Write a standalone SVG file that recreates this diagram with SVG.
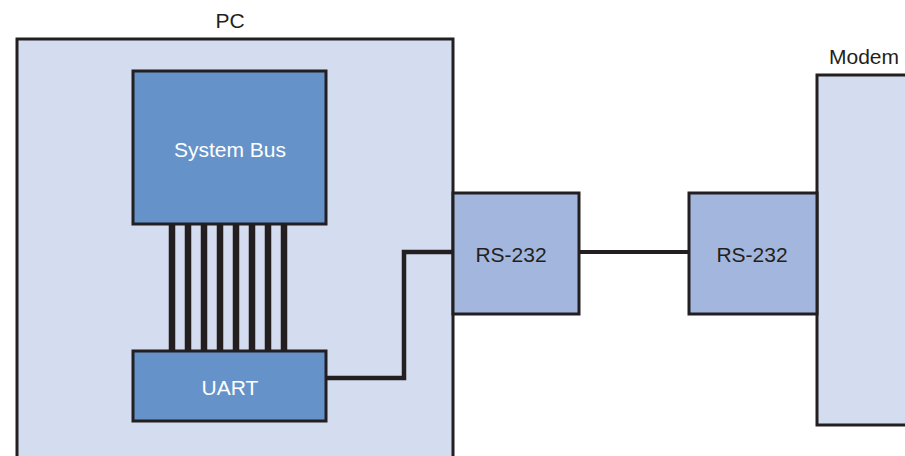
<svg xmlns="http://www.w3.org/2000/svg" width="905" height="456" viewBox="0 0 905 456">
<style>
.box{stroke:#231f20;stroke-width:3}
.outer{fill:#d4dcef}
.bus{fill:#6593c9}
.rs{fill:#a3b7de}
.lbl{font-family:"Liberation Sans",Arial,sans-serif;font-size:21px;text-anchor:middle;fill:#231f20}
.wl{fill:#ffffff}
.wire{fill:none;stroke:#231f20}
</style>
<rect width="905" height="456" fill="#ffffff"/>
<g id="pc">
<rect class="box outer" x="17" y="39" width="436" height="430"/>
<text class="lbl" x="230" y="28">PC</text>
</g>
<g id="modem">
<rect class="box outer" x="817" y="75" width="100" height="350"/>
<text class="lbl" x="864" y="64">Modem</text>
</g>
<g id="connectors">
<g class="wire" stroke-width="6.5">
<line x1="172" y1="224" x2="172" y2="351"/>
<line x1="188" y1="224" x2="188" y2="351"/>
<line x1="204" y1="224" x2="204" y2="351"/>
<line x1="220" y1="224" x2="220" y2="351"/>
<line x1="236" y1="224" x2="236" y2="351"/>
<line x1="252" y1="224" x2="252" y2="351"/>
<line x1="268" y1="224" x2="268" y2="351"/>
<line x1="284" y1="224" x2="284" y2="351"/>
</g>
<polyline class="wire" stroke-width="4.5" points="326,378 404,378 404,252 453,252"/>
<line class="wire" stroke-width="4" x1="579" y1="252" x2="689" y2="252"/>
</g>
<g id="system-bus">
<rect class="box bus" x="133" y="71" width="193" height="153"/>
<text class="lbl wl" x="230" y="157">System Bus</text>
</g>
<g id="uart">
<rect class="box bus" x="133" y="351" width="193" height="70"/>
<text class="lbl wl" x="230" y="395">UART</text>
</g>
<g id="rs232-pc">
<rect class="box rs" x="453" y="193" width="126" height="121"/>
<text class="lbl" x="511" y="262">RS-232</text>
</g>
<g id="rs232-modem">
<rect class="box rs" x="689" y="193" width="128" height="121"/>
<text class="lbl" x="752" y="262">RS-232</text>
</g>
</svg>
